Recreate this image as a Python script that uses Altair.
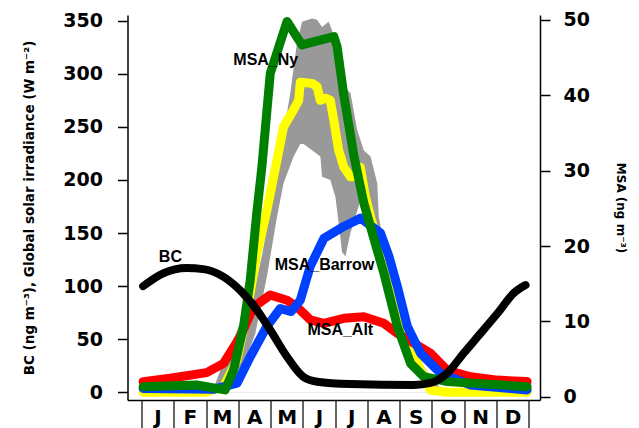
import altair as alt
import pandas as pd

# ---------------- data ----------------
MONTHS = ["J", "F", "M", "A", "M", "J", "J", "A", "S", "O", "N", "D"]
LEFT_TICKS = [0, 50, 100, 150, 200, 250, 300, 350]
RIGHT_TICKS = [0, 10, 20, 30, 40, 50]

# x in months (0 = start of January, 12 = end of December)
BC_X = [0.05, 0.67, 1.40, 1.91, 2.53, 3.06, 3.58, 3.99, 4.51, 5.01, 5.44, 6.47,
        8.43, 8.96, 9.48, 9.99, 10.52, 11.04, 11.54, 11.9]
BC_Y = [100, 112, 117, 116, 109, 96, 77.5, 58.7, 33.5, 14.7, 10, 7.8,
        6.9, 8.8, 18.2, 37, 55.9, 74.7, 93.5, 101]

SOLAR_X = [0.05, 2.0, 2.54, 2.95, 3.26, 3.57, 3.89, 4.20, 4.40, 4.71, 4.87, 4.92,
           5.28, 5.44, 5.54, 5.70, 5.85, 5.96, 6.11, 6.27, 6.48, 6.63, 6.78, 6.94,
           7.10, 7.72, 8.24, 8.65, 8.96, 9.48, 11.95]
SOLAR_Y = [0, 0, 5, 30, 74, 130, 172, 219, 250, 266, 275, 292,
           291, 288, 275, 277, 275, 256, 228, 212, 203, 203, 212, 184,
           165, 100, 50, 21, 2, 0, 0]

SOLAR_MAX_X = [2.185, 2.558, 3.056, 3.522, 3.740, 3.988, 4.352, 4.610, 4.818, 4.974,
               5.285, 5.440, 5.595, 5.800, 5.906, 6.062, 6.267, 6.475, 6.683, 6.888,
               7.097, 7.305, 7.355, 7.510, 7.718, 8.029, 8.287, 8.548, 8.754, 9.055, 9.428]
SOLAR_MAX_Y = [0, 30, 65, 100, 130, 172, 234, 282, 329, 349,
               352, 351, 344, 349, 341, 319, 288, 282, 247, 228,
               222, 197, 165, 140, 109, 84, 56, 37, 24, 10, 0]

SOLAR_MIN_X = [2.496, 3.211, 3.522, 3.678, 3.886, 4.196, 4.402, 4.713, 4.921, 5.023,
               5.285, 5.543, 5.595, 5.853, 6.009, 6.111, 6.217, 6.320, 6.475, 6.879,
               7.199, 7.510, 7.927, 8.340, 8.744, 9.117]
SOLAR_MIN_Y = [0, 30, 55, 78, 109, 165, 197, 222, 234, 234,
               228, 222, 203, 200, 184, 159, 132, 128, 150, 190,
               150, 112, 61, 27, 8, 0]

NY_X = [0.05, 1.71, 2.59, 2.85, 3.16, 3.37, 3.57, 3.73, 3.99, 4.51, 4.97, 5.96,
        6.06, 6.27, 6.58, 6.89, 7.20, 7.51, 7.93, 8.34, 8.75, 9.48, 11.95]
NY_Y = [1.33, 1.55, 0.9, 3.5, 9.3, 15.5, 24.3, 30.5, 42.9, 49.8, 46.7, 47.8,
        46.5, 40, 32, 25.7, 21, 16.4, 9.3, 4.4, 2.65, 2.0, 1.33]

BARROW_X = [0.05, 2.23, 2.96, 3.37, 3.88, 4.30, 4.64, 4.92, 5.23, 5.65, 6.27, 6.79,
            7.41, 7.67, 7.93, 8.24, 8.65, 9.27, 10.2, 11.95]
BARROW_Y = [1.1, 0.98, 1.8, 5.3, 9.3, 11.7, 11.3, 12.8, 17.3, 21.0, 22.6, 23.7,
            21.7, 18.6, 14.6, 9.3, 5.76, 3.1, 1.55, 0.9]

ALT_X = [0.05, 0.88, 2.02, 2.54, 3.06, 3.47, 3.99, 4.51, 4.82, 5.23, 5.65, 6.27,
         6.89, 7.51, 7.93, 8.44, 8.96, 9.48, 10.2, 11.03, 11.95]
ALT_Y = [2.0, 2.44, 3.19, 4.43, 7.96, 11.9, 13.5, 12.8, 11.9, 10.2, 9.74, 10.4,
         10.6, 9.74, 8.4, 7.1, 5.76, 3.5, 2.65, 2.2, 2.0]

LABELS = ["BC", "MSA_Ny", "MSA_Barrow", "MSA_Alt"]
LABEL_X = [0.895, 3.85, 5.67, 6.16]
LABEL_Y = [127.4, 313, 120, 58.8]

LEFT_TITLE = "BC (ng m\u207b\u00b3), Global solar irradiance (W m\u207b\u00b2)"
RIGHT_TITLE = "MSA (ng m\u207b\u00b3)"


def frame(xs, ys):
    return pd.DataFrame({"x": xs, "v": ys})


# ---------------- scales & axes ----------------
xscale = alt.Scale(domain=[-0.435, 12.35], nice=False, zero=False)
yl = alt.Scale(domain=[-7.25, 355.4], nice=False, zero=False)
yr = alt.Scale(domain=[-0.44, 50.66], nice=False, zero=False)

label_expr = "[" + ",".join("'%s'" % m for m in MONTHS + [""]) + "][datum.value]"
x_axis = alt.Axis(values=list(range(13)), labelExpr=label_expr, title=None, grid=False,
                  tickSize=30, tickWidth=1.2, tickColor="black",
                  domainColor="black", domainWidth=1.5,
                  labelPadding=-23, labelOffset=16, labelFlush=False,
                  labelOverlap=False, labelBound=False,
                  labelFont="DejaVu Sans", labelFontWeight="bold",
                  labelFontSize=20, labelColor="black")

left_axis = alt.Axis(values=LEFT_TICKS, orient="left", grid=False, title=LEFT_TITLE,
                     tickSize=10, tickWidth=1.5, tickColor="black",
                     domainColor="black", domainWidth=1.5,
                     labelPadding=15, labelFont="DejaVu Sans", labelFontWeight="bold",
                     labelFontSize=19, labelColor="black",
                     titleFont="DejaVu Sans", titleFontWeight="bold",
                     titleFontSize=13.5, titleColor="black", titlePadding=26)

right_axis = alt.Axis(values=RIGHT_TICKS, orient="right", grid=False, title=RIGHT_TITLE,
                      tickSize=10, tickWidth=1.5, tickColor="black",
                      domainColor="black", domainWidth=1.5,
                      labelPadding=13, labelFont="DejaVu Sans", labelFontWeight="bold",
                      labelFontSize=19, labelColor="black",
                      titleFont="DejaVu Sans", titleFontWeight="bold",
                      titleFontSize=12, titleColor="black", titlePadding=24)

X = alt.X("x:Q", scale=xscale, axis=x_axis)


def line(df, color, scale, axis, width=9, interp="linear"):
    return alt.Chart(df).mark_line(color=color, strokeWidth=width, strokeCap="round",
                                   strokeJoin="round", interpolate=interp).encode(
        x=X, y=alt.Y("v:Q", scale=scale, axis=axis))


gray = alt.Chart(frame(SOLAR_MAX_X, SOLAR_MAX_Y)).mark_area(color="#999999", opacity=1).encode(
    x=X, y=alt.Y("v:Q", scale=yl, axis=left_axis), y2=alt.datum(0))
white = alt.Chart(frame(SOLAR_MIN_X, SOLAR_MIN_Y)).mark_area(color="white", opacity=1).encode(
    x=X, y=alt.Y("v:Q", scale=yl, axis=left_axis), y2=alt.datum(0))
yellow = line(frame(SOLAR_X, SOLAR_Y), "#ffff00", yl, left_axis)

left_group = alt.layer(gray, white, yellow)

red = line(frame(ALT_X, ALT_Y), "#ff0000", yr, right_axis)
blue = line(frame(BARROW_X, BARROW_Y), "#0040ff", yr, right_axis)
green = line(frame(NY_X, NY_Y), "#008000", yr, right_axis)
right_group = alt.layer(red, blue, green)

black = line(frame(BC_X, BC_Y), "black", yl, None, width=8, interp="monotone")
labels = alt.Chart(pd.DataFrame({"x": LABEL_X, "v": LABEL_Y, "t": LABELS})).mark_text(
    font="Liberation Sans", fontWeight="bold", fontSize=16, color="black",
    align="center", baseline="middle").encode(
    x=X, y=alt.Y("v:Q", scale=yl, axis=None), text="t:N")
top_group = alt.layer(black, labels)

chart = alt.layer(left_group, right_group, top_group).resolve_scale(
    y="independent"
).properties(
    width=412.5, height=385,
    autosize=alt.AutoSizeParams(type="none"),
    padding={"left": 119.5, "top": 7, "right": 91, "bottom": 30},
    background="white",
).configure_view(strokeWidth=0)

chart.save("out.html", embed_options={"renderer": "svg", "actions": False})
